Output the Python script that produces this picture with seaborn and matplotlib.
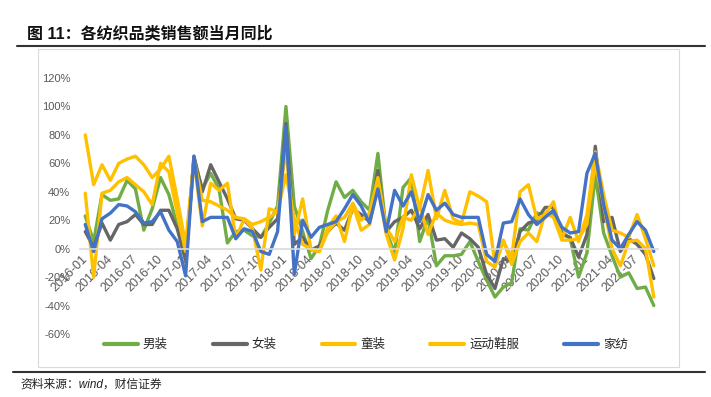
import numpy as np
import pandas as pd
import seaborn as sns
import matplotlib
matplotlib.use("Agg")
import matplotlib.pyplot as plt
from matplotlib.patches import Rectangle
from matplotlib.lines import Line2D
from matplotlib.ticker import FuncFormatter

sns.set_theme(style="white")
plt.rcParams['font.family'] = ['Liberation Sans', 'Noto Sans CJK SC', 'DejaVu Sans']
plt.rcParams['axes.unicode_minus'] = False

# monthly, 2016-01 .. 2021-09
months = pd.date_range("2016-01", periods=69, freq="MS").strftime("%Y-%m").tolist()

men = [23, 5, 38, 34, 35, 48, 42, 13, 28, 50,
       38, 16, -8, 63, 42, 53, 42, 4, 12, 13,
       9, 8, 18, 30, 100, 30, 12, -7, 2, 27,
       47, 36, 41, 33, 27, 67, 12, -3, 43, 50,
       5, 22, -12, -5, -5, -4, 5, -9, -22, -34,
       -27, -24, 14, 13, 25, 24, 24, 12, 7, -20,
       -3, 52, 11, -5, -20, -17, -28, -27, -40]
women = [12, 1, 18, 6, 17, 19, 24, 17, 17, 27,
         27, 14, -8, 65, 40, 59, 47, 35, 21, 20,
         14, 8, 15, 21, 88, 3, 8, -1, 2, 12,
         18, 13, 28, 24, 19, 55, 12, 19, 22, 27,
         14, 24, 6, 7, 1, 11, 7, 1, -18, -28,
         -7, -9, 12, 18, 20, 29, 29, 10, 8, -6,
         10, 72, 19, 22, -2, 7, 3, -4, -21]
kids = [39, -20, 39, 41, 47, 50, 45, 40, 31, 60,
        54, 25, -2, 63, 34, 33, 30, 27, 22, 21,
        17, 19, 22, 26, 52, 21, 3, 0, -2, 12,
        19, 22, 32, 20, 25, 50, 15, 5, 22, 20,
        30, 10, 25, 20, 18, 17, 18, 17, -9, -13,
        6, -11, 5, 11, 5, 25, 22, 6, 6, 7,
        17, 61, 31, 0, -12, 5, 6, 0, -34]
sports = [80, 45, 59, 48, 60, 63, 65, 59, 50, 56,
          65, 35, 3, 62, 16, 46, 41, 46, 7, 21,
          14, -15, 28, 26, 70, 10, 35, -1, -2, 15,
          23, 5, 31, 13, 17, 45, 10, -8, 14, 52,
          28, 55, 21, 41, 21, 18, 40, 37, 33, -11,
          5, -6, 40, 45, 21, 24, 33, 7, 22, 5,
          24, 68, 38, 13, 11, 8, 24, 7, -12]
home = [17, -2, 21, 25, 31, 30, 26, 18, 19, 26,
        13, 5, -19, 65, 19, 22, 22, 22, 7, 14,
        12, -2, -4, 12, 86, -18, 20, 8, 15, 17,
        19, 28, 38, 30, 18, 42, 12, 41, 30, 40,
        19, 38, 27, 32, 24, 22, 22, 22, -4, -9,
        18, 19, 35, 24, 17, 22, 27, 15, 11, 12,
        53, 67, 31, 6, 0, 10, 19, 13, -2]

names = ['男装', '女装', '童装', '运动鞋服', '家纺']
colors = ['#70AD47', '#666666', '#FFC000', '#FFC000', '#4472C4']
yticks = [-60, -40, -20, 0, 20, 40, 60, 80, 100, 120]

wide = pd.DataFrame({'男装': men, '女装': women, '童装': kids,
                     '运动鞋服': sports, '家纺': home})
wide['idx'] = np.arange(len(months))
df = wide.melt(id_vars='idx', var_name='品类', value_name='yoy')

W, H = 711, 397
fig = plt.figure(figsize=(W / 100, H / 100), dpi=100)
ax = fig.add_axes([80 / W, 1 - 334 / H, 578 / W, 256 / H])

sns.lineplot(data=df, x='idx', y='yoy', hue='品类', hue_order=names,
             palette=dict(zip(names, colors)), linewidth=2.4,
             estimator=None, ax=ax)

# axis line crosses at 0 (set before tick labels, set_position resets ticks)
for s in ['top', 'right', 'left']:
    ax.spines[s].set_visible(False)
ax.spines['bottom'].set_position(('data', 0))
ax.spines['bottom'].set_color('#d9d9d9')
ax.spines['bottom'].set_linewidth(1.2)
ax.grid(False)

ax.set_xlim(-0.63, 68.5)
ax.set_ylim(-60, 120)
ax.set_yticks(yticks)
ax.yaxis.set_major_formatter(FuncFormatter(lambda v, p: f"{int(v)}%"))
tick_pos = list(range(0, 67, 3))
ax.set_xticks(tick_pos)
ax.set_xticklabels([months[i] for i in tick_pos], rotation=45, ha='right',
                   va='center', rotation_mode='anchor')
ax.set_xlabel('')
ax.set_ylabel('')
ax.tick_params(axis='both', length=0, colors='#595959')
ax.tick_params(axis='y', labelsize=8, pad=7)
ax.tick_params(axis='x', labelsize=9, pad=6)

sns.move_legend(ax, 'center', bbox_to_anchor=((366 - 80) / 578, (334 - 345) / 256),
                ncol=5, frameon=False, title=None, fontsize=9,
                handlelength=2.7, handletextpad=0.4, columnspacing=3.6)
for ln in ax.get_legend().get_lines():
    ln.set_linewidth(3)

# frame around chart and header/footer rules
fig.add_artist(Rectangle((38 / W, 1 - 367 / H), (679 - 38) / W, (367 - 49) / H,
                         transform=fig.transFigure, fill=False, ec='#d9d9d9', lw=0.8))
fig.add_artist(Line2D([17 / W, 705 / W], [1 - 46 / H] * 2, color='#333333', lw=1.5))
fig.add_artist(Line2D([13 / W, 705 / W], [1 - 372 / H] * 2, color='#333333', lw=1.5))

fig.text(27 / W, 1 - 33 / H, '图 11：各纺织品类销售额当月同比', fontsize=11.5,
         fontweight='bold', va='center', color='#111111')
fig.text(20 / W, 1 - 385 / H, '资料来源：wind，财信证券', fontsize=8.5,
         style='italic', va='center', color='#222222')

fig.savefig('out.png', dpi=100)
